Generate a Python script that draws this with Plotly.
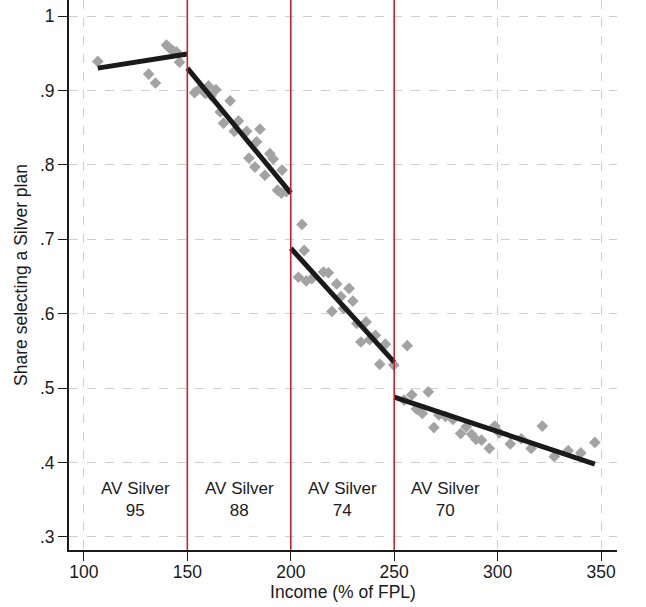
import plotly.graph_objects as go

# binned scatter: income (% FPL) vs share choosing silver
seg1_x = [106.7, 131.3, 134.6, 139.9, 141.3, 142.8, 144.7, 146.2]
seg1_y = [0.939, 0.922, 0.910, 0.961, 0.957, 0.954, 0.952, 0.938]

seg2_x = [153.5, 156.3, 158.7, 160.2, 161.5, 163.8, 165.9, 167.5, 170.7, 172.7,
          174.7, 178.7, 179.8, 182.7, 183.5, 185.1, 187.5, 189.9, 191.5, 193.6,
          195.5, 195.8, 197.9]
seg2_y = [0.897, 0.903, 0.896, 0.906, 0.893, 0.901, 0.871, 0.856, 0.886, 0.845,
          0.859, 0.845, 0.809, 0.797, 0.831, 0.848, 0.786, 0.815, 0.808, 0.766,
          0.762, 0.793, 0.764]

seg3_x = [203.7, 205.4, 206.5, 207.5, 210.2, 215.8, 218.2, 219.9, 222.2, 224.2,
          225.5, 228.2, 230.0, 231.9, 233.9, 236.4, 238.1, 240.9, 243.0, 245.7,
          249.8]
seg3_y = [0.649, 0.720, 0.685, 0.644, 0.647, 0.656, 0.655, 0.603, 0.640, 0.623,
          0.607, 0.634, 0.617, 0.587, 0.562, 0.589, 0.565, 0.571, 0.532, 0.559,
          0.531]

seg4_x = [254.8, 256.3, 258.5, 260.7, 263.6, 266.5, 269.2, 271.6, 274.8, 278.4,
          282.1, 284.8, 287.4, 289.6, 292.2, 296.0, 298.6, 300.8, 306.1, 311.4,
          316.2, 321.6, 327.4, 334.1, 340.2, 347.0]
seg4_y = [0.484, 0.557, 0.491, 0.472, 0.466, 0.495, 0.447, 0.464, 0.462, 0.458,
          0.439, 0.448, 0.438, 0.431, 0.430, 0.419, 0.449, 0.440, 0.425, 0.432,
          0.419, 0.449, 0.408, 0.416, 0.413, 0.427]

# linear fits, endpoints per bracket
fit_x = [[106.7, 150], [150, 200], [200, 250], [250, 347]]
fit_y = [[0.930, 0.949], [0.930, 0.762], [0.688, 0.535], [0.488, 0.398]]

cutoffs = [150, 200, 250]
label_x = [125, 175, 225, 275]
label_av = ['95', '88', '74', '70']

xticks = [100, 150, 200, 250, 300, 350]
yticks = [0.3, 0.4, 0.5, 0.6, 0.7, 0.8, 0.9, 1.0]
ytick_text = ['.3', '.4', '.5', '.6', '.7', '.8', '.9', '1']

fig = go.Figure()

all_x = seg1_x + seg2_x + seg3_x + seg4_x
all_y = seg1_y + seg2_y + seg3_y + seg4_y
fig.add_trace(go.Scatter(x=all_x, y=all_y, mode='markers',
                         marker=dict(symbol='diamond', size=9, color='#a3a3a3'),
                         showlegend=False))

for fx, fy in zip(fit_x, fit_y):
    fig.add_trace(go.Scatter(x=fx, y=fy, mode='lines',
                             line=dict(color='#1a1a1a', width=5),
                             showlegend=False))

for c in cutoffs:
    fig.add_shape(type='line', x0=c, x1=c, y0=0, y1=1, xref='x', yref='paper',
                  line=dict(color='#bf2430', width=1.6))

for lx, av in zip(label_x, label_av):
    fig.add_annotation(x=lx, y=0.3505, text='AV Silver<br>' + av, showarrow=False,
                       font=dict(size=17, color='#1a1a1a'))

fig.update_layout(
    width=646, height=607,
    margin=dict(l=69, r=29, t=0, b=57),
    plot_bgcolor='white', paper_bgcolor='white',
    font=dict(family='Liberation Sans, Arial', size=17.5, color='#1a1a1a'),
)
fig.update_xaxes(range=[92.8, 357.7], tickvals=xticks, showline=True,
                 linecolor='#1a1a1a', linewidth=2, ticks='outside', ticklen=9,
                 tickcolor='#1a1a1a', showgrid=True, gridcolor='#cfcfcf',
                 griddash='dash', gridwidth=1, zeroline=False, automargin=False,
                 ticklabelstandoff=-4,
                 title=dict(text='Income (% of FPL)', font=dict(size=17.5), standoff=0))
fig.update_yaxes(range=[0.2825, 1.0215], tickvals=yticks, ticktext=ytick_text,
                 showline=True, linecolor='#1a1a1a', linewidth=2, ticks='outside',
                 ticklen=9, tickcolor='#1a1a1a', showgrid=True, gridcolor='#cfcfcf',
                 griddash='dash', gridwidth=1, zeroline=False, automargin=False,
                 title=dict(text='Share selecting a Silver plan', font=dict(size=17.5),
                            standoff=8))

# drop the default page margin so the figure sits at the window corner
fig.write_html("out.html", config={'displayModeBar': False},
               post_script="document.body.style.margin='0';")
